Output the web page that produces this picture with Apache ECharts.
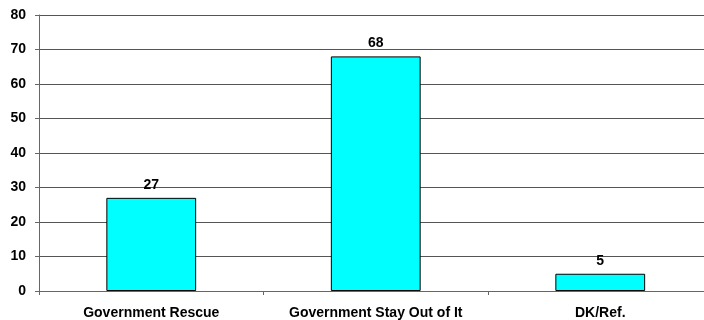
<!DOCTYPE html>
<html><head><meta charset="utf-8">
<script src="https://cdn.jsdelivr.net/npm/echarts@6/dist/echarts.min.js"></script>
<style>html,body{margin:0;padding:0;background:#fff}#c{width:704px;height:320px}</style>
</head><body><div id="c"></div>
<script>
var categories = ['Government Rescue', 'Government Stay Out of It', 'DK/Ref.'];
var values = [27, 68, 5];
var yTicks = [0, 10, 20, 30, 40, 50, 60, 70, 80];

var chart = echarts.init(document.getElementById('c'), null, {renderer: 'canvas'});
var font = '"Liberation Sans", Arial, sans-serif';
chart.setOption({
  animation: false,
  backgroundColor: '#ffffff',
  grid: {left: 39, width: 673.5, top: 15, bottom: 29, containLabel: false, outerBoundsMode: 'none'},
  xAxis: {
    type: 'category',
    data: categories,
    axisLine: {show: true, lineStyle: {color: '#666', width: 1}},
    axisTick: {show: true, length: 4, alignWithLabel: false, lineStyle: {color: '#666'}},
    axisLabel: {color: '#000', fontFamily: font, fontWeight: 'bold', fontSize: 14, margin: 15, interval: 0, hideOverlap: false},
    splitLine: {show: false}
  },
  yAxis: {
    type: 'value',
    min: yTicks[0], max: yTicks[yTicks.length - 1], interval: 10,
    axisLine: {show: true, lineStyle: {color: '#666', width: 1}},
    axisTick: {show: true, length: 4, lineStyle: {color: '#666'}},
    axisLabel: {color: '#000', fontFamily: font, fontWeight: 'bold', fontSize: 14, margin: 13},
    splitLine: {show: true, lineStyle: {color: '#555', width: 1}}
  },
  series: [{
    type: 'bar',
    data: values,
    barWidth: '40%',
    itemStyle: {color: '#00FFFF', borderColor: '#000', borderWidth: 1},
    label: {show: true, position: 'top', distance: 6, color: '#000', fontFamily: font, fontWeight: 'bold', fontSize: 14}
  }]
});
</script></body></html>
